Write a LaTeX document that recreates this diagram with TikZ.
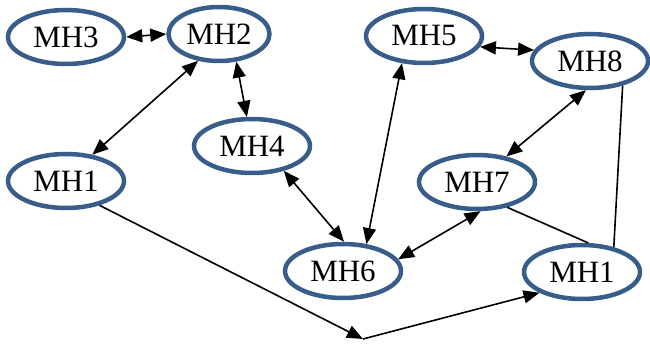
\documentclass[tikz,border=0pt]{standalone}
\usepackage{fontspec}
\setmainfont{Liberation Serif}
\usetikzlibrary{shapes.geometric,arrows.meta}
\definecolor{hostblue}{HTML}{385D8A}

\begin{document}
\begin{tikzpicture}[x=1pt,y=-1pt,>={Triangle[length=16pt,width=13pt]}]
  \tikzset{host/.style={ellipse,draw=hostblue,line width=4.5pt,minimum width=116pt,minimum height=54pt,inner sep=0pt,font=\fontsize{31}{37}\selectfont},
    link/.style={line width=1.6pt}}
  \useasboundingbox (0,0) rectangle (650,347);
  \node[host] (mh3) at (66,37) {MH3};
  \node[host,minimum width=101pt] (mh2) at (219,34) {MH2};
  \node[host] (mh5) at (424,36) {MH5};
  \node[host] (mh8) at (590,61) {MH8};
  \node[host] (mh4) at (252,146) {MH4};
  \node[host] (mh1a) at (66,181) {MH1};
  \node[host] (mh7) at (477,182) {MH7};
  \node[host] (mh6) at (343,271) {MH6};
  \node[host] (mh1b) at (582,272) {MH1};
  \coordinate (bend) at (363,339);
  \draw[link,<->] (mh3.east) -- (mh2.west);
  \draw[link,<->] (mh2.-128) -- (mh1a.45);
  \draw[link,<->] (mh2.-58) -- (mh4.100);
  \draw[link,<->] (mh4.-38) -- (mh6.88);
  \draw[link,<->] (mh5.-129) -- (mh6.49);
  \draw[link,<->] (mh5.-11) -- (mh8.169);
  \draw[link,<->] (mh8.-98) -- (mh7.41);
  \draw[link,<->] (mh7.-83) -- (mh6.12);
  \draw[link] (mh7.-40) -- (mh1b.78);
  \draw[link] (mh8.-37) -- (mh1b.38);
  \draw[link,->] (mh1a.-36) -- (bend);
  \draw[link,->] (bend) -- (mh1b.-154);
\end{tikzpicture}
\end{document}
